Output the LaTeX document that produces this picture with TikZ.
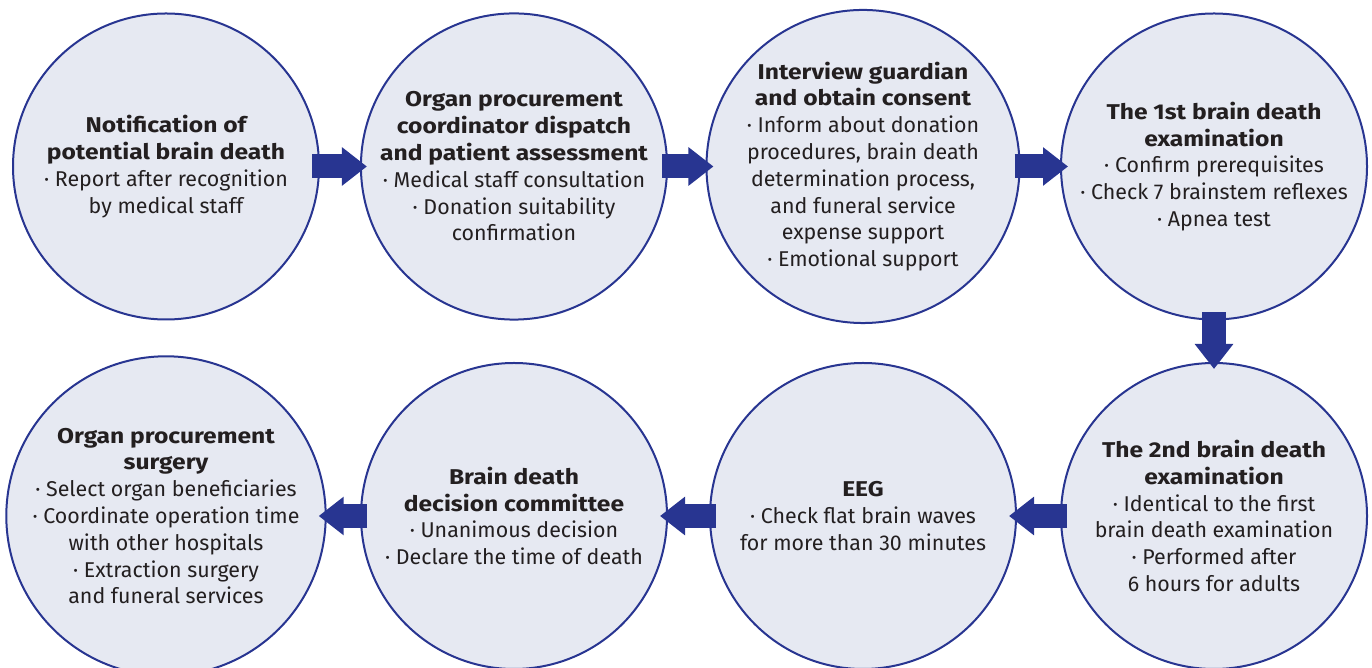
\documentclass[tikz,border=0pt]{standalone}
\usepackage{fontspec}
\setmainfont{Fira Sans}
\newfontfamily\ttlfont[FakeStretch=1.15]{Fira Sans}
\usetikzlibrary{arrows.meta}
\definecolor{circfill}{RGB}{230,233,242}
\definecolor{circline}{RGB}{40,53,145}
\definecolor{arrowblue}{RGB}{40,53,145}
\definecolor{txt}{RGB}{35,31,32}
\tikzset{
  stage/.style={circle, draw=circline, line width=2pt, fill=circfill, minimum size=306pt, inner sep=0pt,
    align=center, text=txt, font=\fontsize{21.4}{26.8}\selectfont},
  flow/.style={draw=arrowblue, line width=24pt, -{Triangle[length=25pt,width=37pt]}, arrowblue}
}
\newcommand{\ttl}[1]{{\ttlfont\bfseries #1}}
\begin{document}
\begin{tikzpicture}[x=1pt,y=1pt]
\useasboundingbox (0,0) rectangle (1372,668);
\node[stage] (s1) at (166,501.5) {\ttl{Notification of}\\\ttl{potential brain death}\\· Report after recognition\\by medical staff};
\node[stage] (s2) at (514,501.5) {\ttl{Organ procurement}\\\ttl{coordinator dispatch}\\\ttl{and patient assessment}\\· Medical staff consultation\\· Donation suitability\\confirmation};
\node[stage] (s3) at (863,501.5) {\ttl{Interview guardian}\\\ttl{and obtain consent}\\· Inform about donation\\procedures, brain death\\determination process,\\and funeral service\\expense support\\· Emotional support};
\node[stage] (s4) at (1214,501.5) {\ttl{The 1st brain death}\\\ttl{examination}\\· Confirm prerequisites\\· Check 7 brainstem reflexes\\· Apnea test};
\node[stage] (s5) at (1214,152) {\ttl{The 2nd brain death}\\\ttl{examination}\\· Identical to the first\\brain death examination\\· Performed after\\6 hours for adults};
\node[stage] (s6) at (863,152) {\ttl{EEG}\\· Check flat brain waves\\for more than 30 minutes};
\node[stage] (s7) at (514,152) {\ttl{Brain death}\\\ttl{decision committee}\\· Unanimous decision\\· Declare the time of death};
\node[stage] (s8) at (166,152) {\ttl{Organ procurement}\\\ttl{surgery}\\· Select organ beneficiaries\\· Coordinate operation time\\with other hospitals\\· Extraction surgery\\and funeral services};
\draw[flow] ([xshift=-8pt]s1.east) -- ([xshift=7pt]s2.west);
\draw[flow] ([xshift=-6pt]s2.east) -- ([xshift=8pt]s3.west);
\draw[flow] ([xshift=-6pt]s3.east) -- ([xshift=8pt]s4.west);
\draw[flow] ([yshift=8pt]s4.south) -- ([yshift=-7pt]s5.north);
\draw[flow] ([xshift=7pt]s5.west) -- ([xshift=-8pt]s6.east);
\draw[flow] ([xshift=7pt]s6.west) -- ([xshift=-8pt]s7.east);
\draw[flow] ([xshift=7pt]s7.west) -- ([xshift=-8pt]s8.east);
\end{tikzpicture}
\end{document}
